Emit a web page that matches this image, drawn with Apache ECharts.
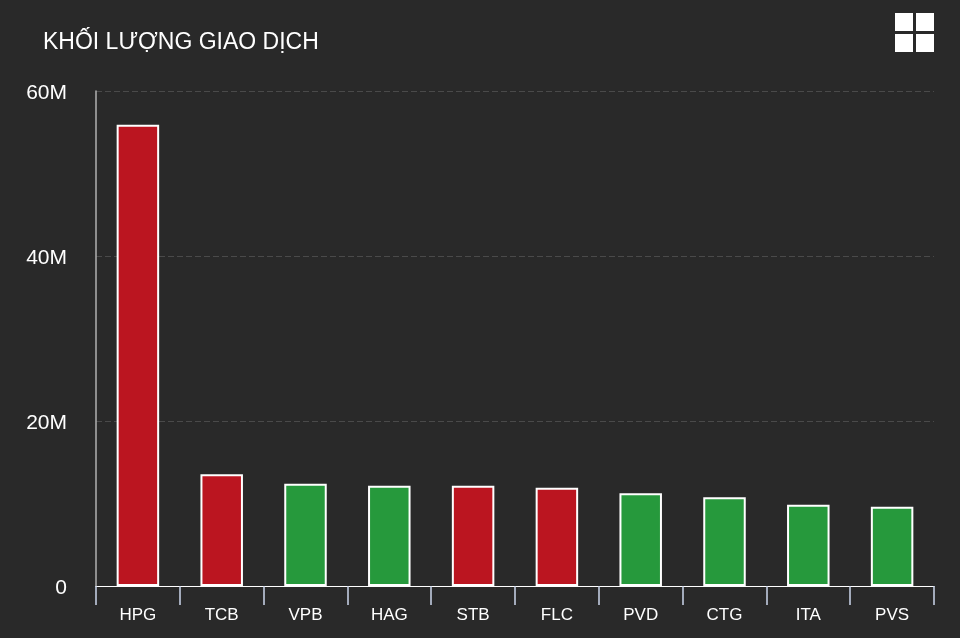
<!DOCTYPE html>
<html><head><meta charset="utf-8">
<style>html,body{margin:0;padding:0;background:#292929}#c{width:960px;height:638px}</style>
<script src="https://cdn.jsdelivr.net/npm/echarts@6/dist/echarts.min.js"></script>
</head><body><div id="c"></div>
<script>
const categories = ['HPG','TCB','VPB','HAG','STB','FLC','PVD','CTG','ITA','PVS'];
const volumes = [55900000,13550000,12400000,12160000,12160000,11900000,11250000,10770000,9860000,9600000];
const directions = ['down','down','up','up','down','down','up','up','up','up'];
const yTicks = {0:'0',20000000:'20M',40000000:'40M',60000000:'60M'};
const titleText = 'KHỐI LƯỢNG GIAO DỊCH';
const RED='#bb1520', GREEN='#26993c';
const font='"Liberation Sans", Arial, sans-serif';
const chart = echarts.init(document.getElementById('c'), null, {renderer:'canvas'});
chart.setOption({
  animation:false,
  backgroundColor:'#292929',
  title:{text:titleText,left:38,top:26,textStyle:{color:'#fff',fontFamily:font,fontSize:23,fontWeight:'normal'}},
  grid:{left:96,right:26,top:91,bottom:52,containLabel:false},
  xAxis:{type:'category',data:categories,
    axisLine:{lineStyle:{color:'#fff',width:1}},
    axisTick:{show:true,alignWithLabel:false,length:19,lineStyle:{color:'#ccd6eb',width:1.5}},
    axisLabel:{color:'#fff',fontFamily:font,fontSize:17,margin:21},
    splitLine:{show:false}},
  yAxis:{type:'value',min:0,max:60000000,interval:20000000,
    axisLine:{show:true,lineStyle:{color:'#b0b0b0',width:1.5}},
    axisTick:{show:false},
    axisLabel:{color:'#fff',fontFamily:font,fontSize:21,margin:29,verticalAlign:'top',lineHeight:4,formatter:v=>yTicks[v]},
    splitLine:{lineStyle:{color:'#4a4a4a',type:[6,3],width:1}}},
  series:[{type:'bar',barWidth:42.5,
    data:volumes.map((v,i)=>({value:v,itemStyle:{color:directions[i]==='up'?GREEN:RED}})),
    itemStyle:{borderColor:'#fff',borderWidth:2}}],
  graphic:[[895,13],[916,13],[895,34],[916,34]].map(([x,y])=>({type:'rect',shape:{x,y,width:18,height:18},style:{fill:'#fff'}}))
});
</script></body></html>
